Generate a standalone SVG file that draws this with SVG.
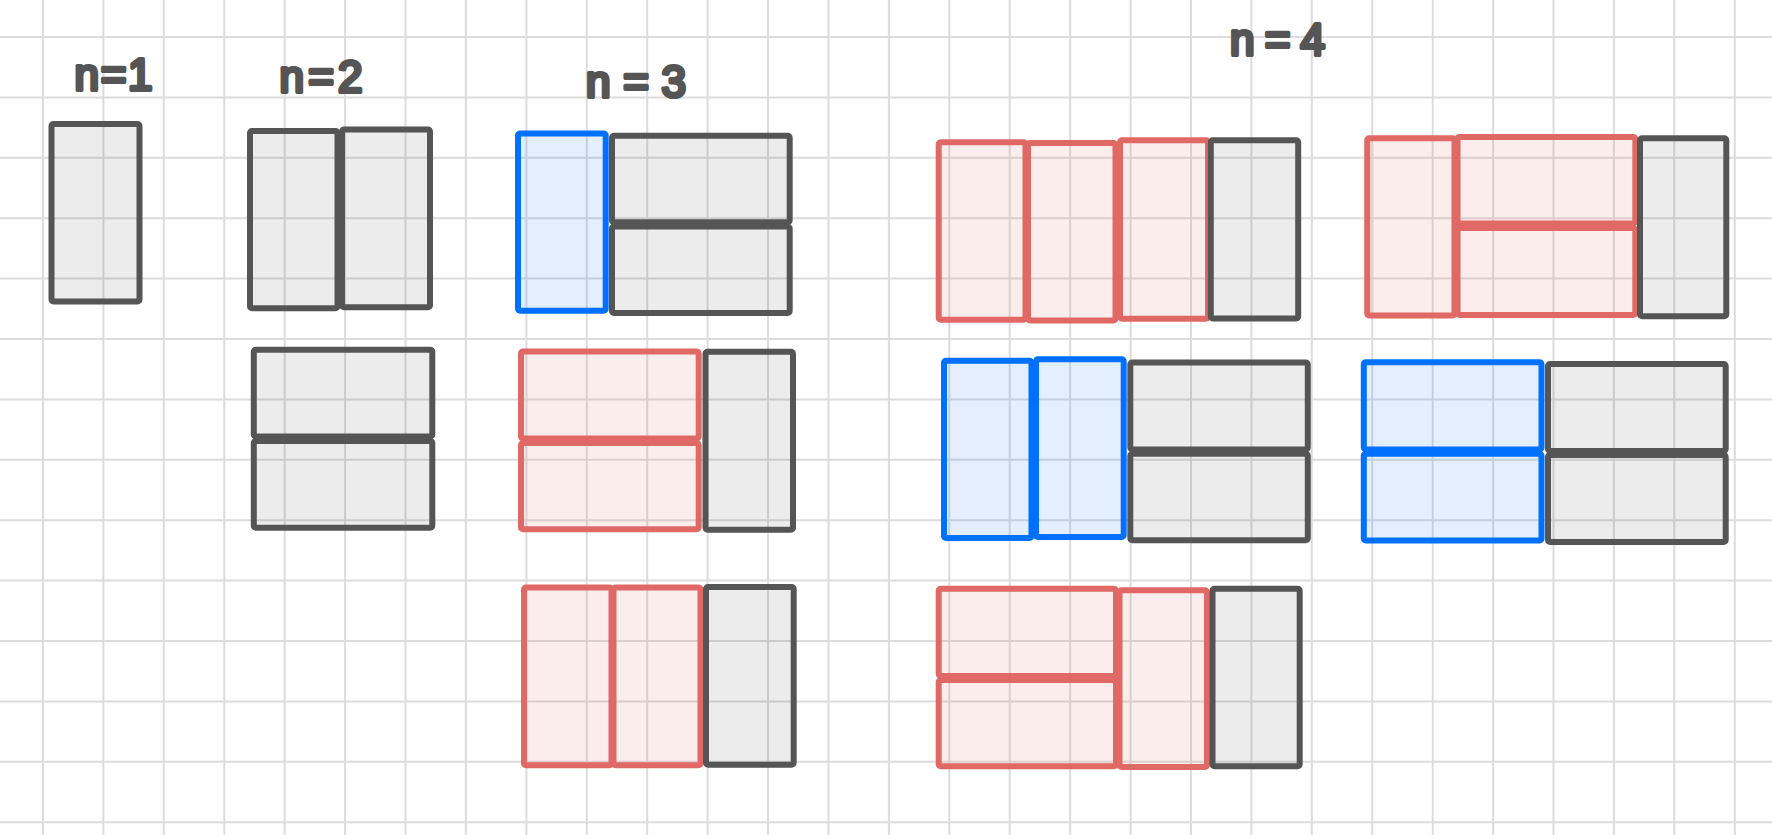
<svg xmlns="http://www.w3.org/2000/svg" width="1772" height="835" viewBox="0 0 1772 835">
<style>
.grid line{stroke:#dcdcdc;stroke-width:2}
.k{fill:#000;fill-opacity:0.075;stroke:#555555;stroke-width:6;stroke-linejoin:round}
.r{fill:#e06966;fill-opacity:0.12;stroke:#e06966;stroke-width:6;stroke-linejoin:round}
.b{fill:#0070ff;fill-opacity:0.11;stroke:#0070ff;stroke-width:6;stroke-linejoin:round}
.lbl{font-family:"Liberation Sans",Arial,sans-serif;font-weight:normal;font-size:44px;fill:#555555;stroke:#555555;stroke-width:4;stroke-linejoin:round;stroke-linecap:round;text-anchor:middle}
</style>
<rect width="1772" height="835" fill="#ffffff"/>
<g class="grid">
<line x1="43" y1="0" x2="43" y2="835"/><line x1="103.4" y1="0" x2="103.4" y2="835"/><line x1="163.8" y1="0" x2="163.8" y2="835"/><line x1="224.3" y1="0" x2="224.3" y2="835"/><line x1="284.7" y1="0" x2="284.7" y2="835"/><line x1="345.1" y1="0" x2="345.1" y2="835"/><line x1="405.5" y1="0" x2="405.5" y2="835"/><line x1="465.9" y1="0" x2="465.9" y2="835"/><line x1="526.4" y1="0" x2="526.4" y2="835"/><line x1="586.8" y1="0" x2="586.8" y2="835"/><line x1="647.2" y1="0" x2="647.2" y2="835"/><line x1="707.6" y1="0" x2="707.6" y2="835"/><line x1="768" y1="0" x2="768" y2="835"/><line x1="828.5" y1="0" x2="828.5" y2="835"/><line x1="888.9" y1="0" x2="888.9" y2="835"/><line x1="949.3" y1="0" x2="949.3" y2="835"/><line x1="1009.7" y1="0" x2="1009.7" y2="835"/><line x1="1070.1" y1="0" x2="1070.1" y2="835"/><line x1="1130.6" y1="0" x2="1130.6" y2="835"/><line x1="1191" y1="0" x2="1191" y2="835"/><line x1="1251.4" y1="0" x2="1251.4" y2="835"/><line x1="1311.8" y1="0" x2="1311.8" y2="835"/><line x1="1372.2" y1="0" x2="1372.2" y2="835"/><line x1="1432.7" y1="0" x2="1432.7" y2="835"/><line x1="1493.1" y1="0" x2="1493.1" y2="835"/><line x1="1553.5" y1="0" x2="1553.5" y2="835"/><line x1="1613.9" y1="0" x2="1613.9" y2="835"/><line x1="1674.3" y1="0" x2="1674.3" y2="835"/><line x1="1734.8" y1="0" x2="1734.8" y2="835"/>
<line x1="0" y1="37" x2="1772" y2="37"/><line x1="0" y1="97.4" x2="1772" y2="97.4"/><line x1="0" y1="157.8" x2="1772" y2="157.8"/><line x1="0" y1="218.2" x2="1772" y2="218.2"/><line x1="0" y1="278.6" x2="1772" y2="278.6"/><line x1="0" y1="339" x2="1772" y2="339"/><line x1="0" y1="399.4" x2="1772" y2="399.4"/><line x1="0" y1="459.8" x2="1772" y2="459.8"/><line x1="0" y1="520.2" x2="1772" y2="520.2"/><line x1="0" y1="580.6" x2="1772" y2="580.6"/><line x1="0" y1="641" x2="1772" y2="641"/><line x1="0" y1="701.4" x2="1772" y2="701.4"/><line x1="0" y1="761.8" x2="1772" y2="761.8"/><line x1="0" y1="822.2" x2="1772" y2="822.2"/>
</g>
<g id="labels">
<text class="lbl" x="113.5" y="90" textLength="78" lengthAdjust="spacing">n=1</text>
<text class="lbl" x="321" y="92" textLength="83" lengthAdjust="spacing">n=2</text>
<text class="lbl" x="636" y="97" textLength="100" lengthAdjust="spacing">n=3</text>
<text class="lbl" x="1277.5" y="55" textLength="95" lengthAdjust="spacing">n=4</text>
</g>
<g id="n1">
<rect class="k" x="51.5" y="124" width="88" height="177.5" rx="2"/>
</g>
<g id="n2a">
<rect class="k" x="250" y="131" width="87.5" height="177.3" rx="2"/>
<rect class="k" x="342" y="129.5" width="88" height="177.7" rx="2"/>
</g>
<g id="n2b">
<rect class="k" x="253.8" y="349.7" width="178.5" height="86.8" rx="2"/>
<rect class="k" x="253.8" y="441" width="178.5" height="86.7" rx="2"/>
</g>
<g id="n3a">
<rect class="b" x="518" y="133.5" width="87.7" height="177.3" rx="2"/>
<rect class="k" x="612" y="135.7" width="177.7" height="86.5" rx="2"/>
<rect class="k" x="612" y="226.5" width="177.7" height="86.5" rx="2"/>
</g>
<g id="n3b">
<rect class="r" x="521" y="351.5" width="177.7" height="87" rx="2"/>
<rect class="r" x="521" y="443" width="177.7" height="86.2" rx="2"/>
<rect class="k" x="705.5" y="351.7" width="87.5" height="178" rx="2"/>
</g>
<g id="n3c">
<rect class="r" x="524" y="587.5" width="87.5" height="177.8" rx="2"/>
<rect class="r" x="613.5" y="587.5" width="87" height="177.8" rx="2"/>
<rect class="k" x="706" y="587" width="87.7" height="177.7" rx="2"/>
</g>
<g id="n4a">
<rect class="r" x="938.7" y="142.3" width="86.8" height="177.4" rx="2"/>
<rect class="r" x="1028" y="143" width="87.5" height="177.5" rx="2"/>
<rect class="r" x="1120" y="140.3" width="88" height="178.5" rx="2"/>
<rect class="k" x="1210.8" y="140.3" width="87.4" height="178.2" rx="2"/>
</g>
<g id="n4b">
<rect class="r" x="1367.2" y="138.2" width="87.3" height="177.3" rx="2"/>
<rect class="r" x="1457.5" y="137" width="177.8" height="86.5" rx="2"/>
<rect class="r" x="1457.5" y="228" width="177.8" height="87" rx="2"/>
<rect class="k" x="1640" y="138.3" width="86.3" height="177.9" rx="2"/>
</g>
<g id="n4c">
<rect class="b" x="944" y="360.8" width="87.5" height="177.2" rx="2"/>
<rect class="b" x="1036" y="359.3" width="87.7" height="177.7" rx="2"/>
<rect class="k" x="1130.3" y="362.5" width="177.5" height="87" rx="2"/>
<rect class="k" x="1130.3" y="453.8" width="177.5" height="86.5" rx="2"/>
</g>
<g id="n4d">
<rect class="b" x="1363.8" y="362.3" width="177.7" height="87.2" rx="2"/>
<rect class="b" x="1363.8" y="453.8" width="177.7" height="86.7" rx="2"/>
<rect class="k" x="1548" y="364" width="177.7" height="87" rx="2"/>
<rect class="k" x="1548" y="455" width="177.7" height="87" rx="2"/>
</g>
<g id="n4e">
<rect class="r" x="938.7" y="588.7" width="177.3" height="87.3" rx="2"/>
<rect class="r" x="938.7" y="680" width="177.3" height="86.3" rx="2"/>
<rect class="r" x="1119.5" y="590.3" width="87.5" height="176.7" rx="2"/>
<rect class="k" x="1212.5" y="588.8" width="87.2" height="177.4" rx="2"/>
</g>
<g id="connectors"></g>
</svg>
